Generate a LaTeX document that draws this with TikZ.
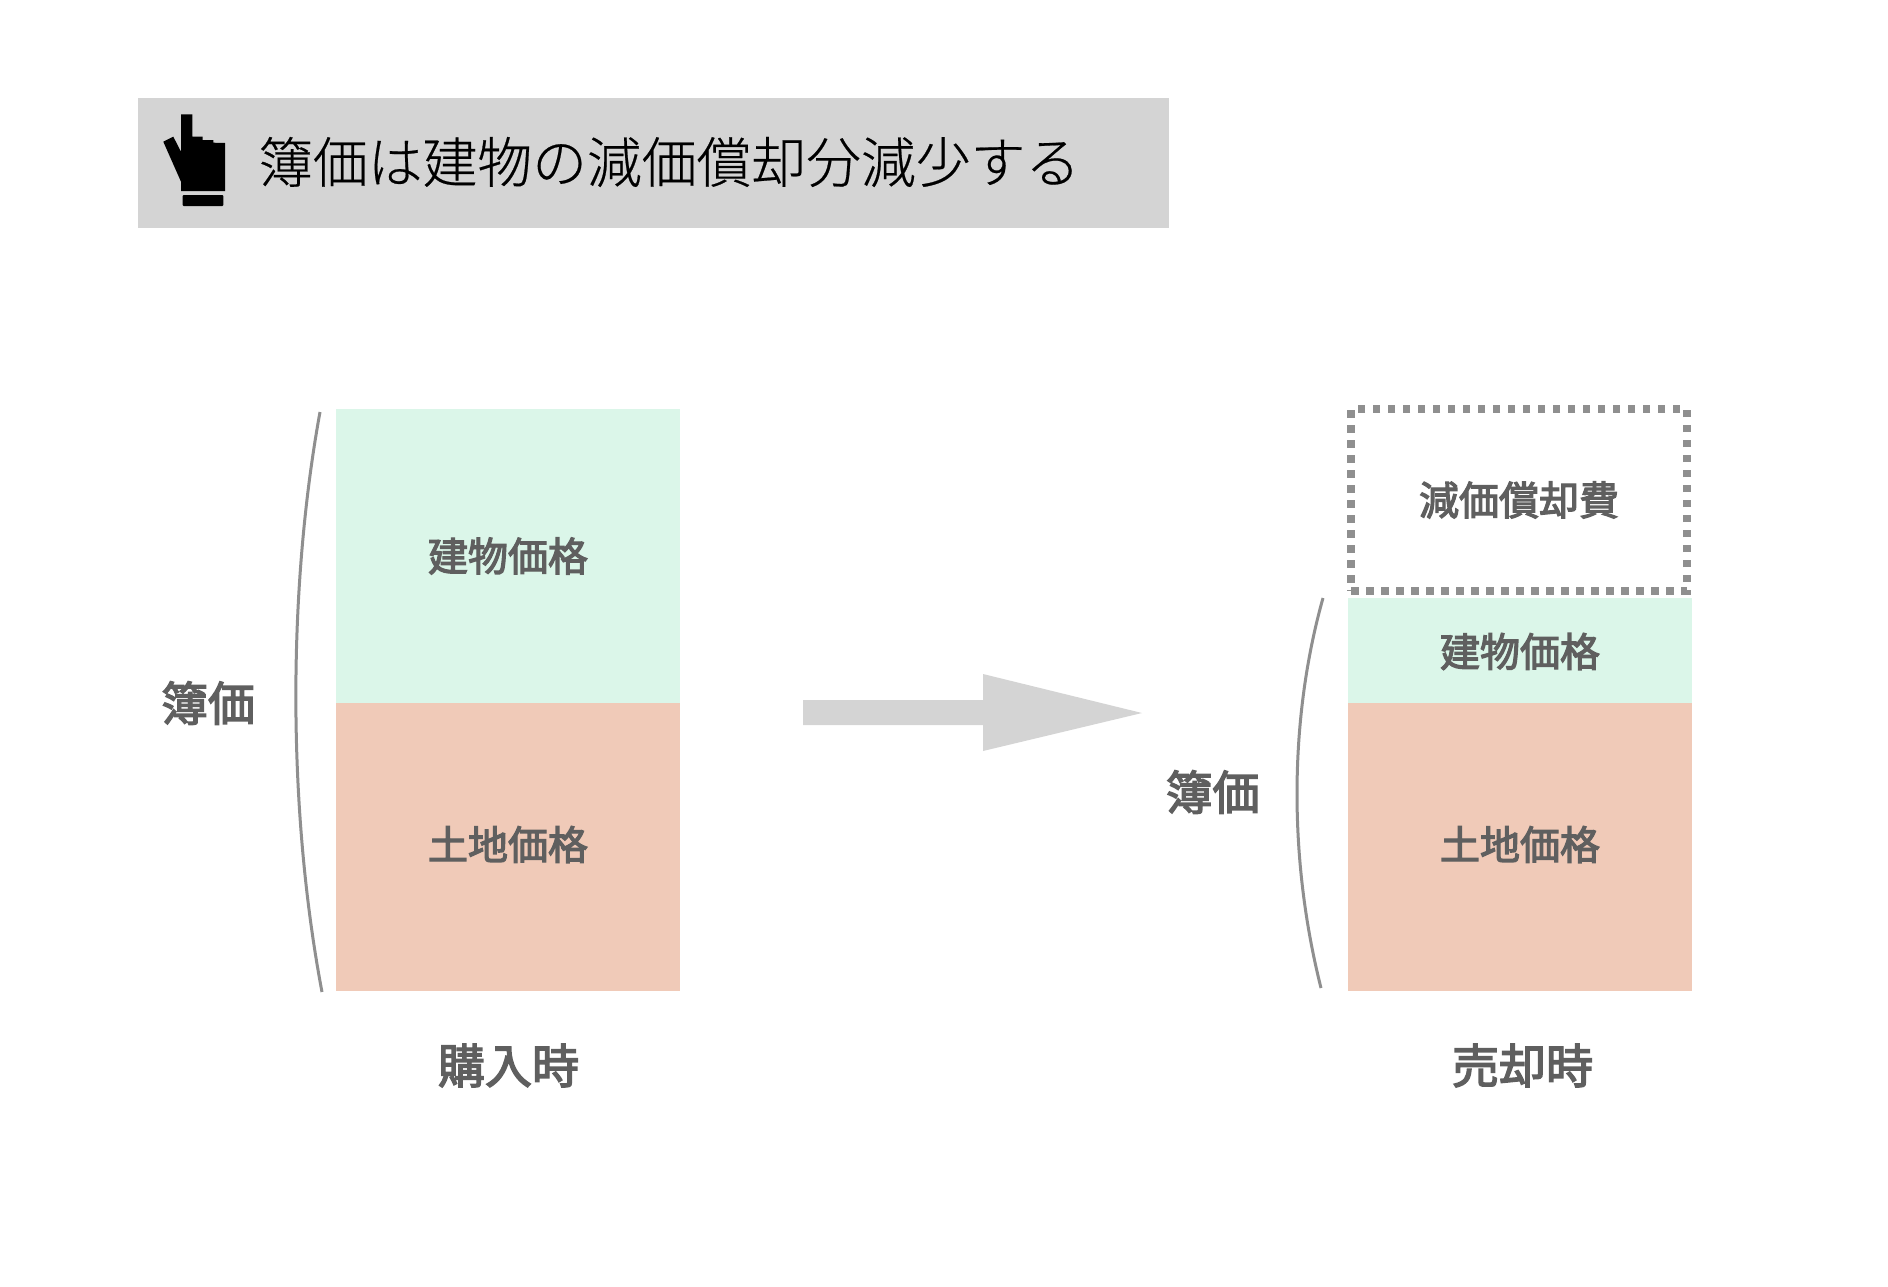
\documentclass[tikz,border=0pt]{standalone}
\usepackage{fontspec}
\setmainfont{Noto Sans CJK JP}
\newfontfamily\lightfont[FakeBold=0.4]{Noto Sans CJK JP Light}
\newfontfamily\mediumfont[FakeBold=3]{Noto Sans CJK JP}
\definecolor{bandgray}{HTML}{D4D4D4}
\definecolor{textgray}{HTML}{5F5F5F}
\definecolor{linegray}{HTML}{8F8F8F}
\definecolor{buildgreen}{HTML}{DBF6E9}
\definecolor{landred}{HTML}{F0CAB8}
\tikzset{
  pricebox/.style={inner sep=0pt,outer sep=0pt,minimum width=344pt,text=textgray,
    font=\fontsize{40}{40}\selectfont\mediumfont},
  sidetext/.style={inner sep=0pt,text=textgray,font=\fontsize{47}{47}\selectfont\mediumfont},
  bracket/.style={draw=linegray,line width=3pt},
}
\begin{document}
\begin{tikzpicture}[x=1pt,y=-1pt]

      \useasboundingbox (0,0) rectangle (1888,1286);

      % header band
      \node[fill=bandgray,inner sep=0pt,minimum width=1031.5pt,minimum height=130pt] (band) at (653.5,162.5) {};
      \fill (181,114.3) -- (192.3,114.3) -- (192.3,136.7) -- (202.7,136.7) -- (202.7,140) -- (213.3,140)
        -- (213.3,142.7) -- (225,143) -- (225,191) -- (181,191) -- (181,181.7) -- (163.3,141.7)
        -- (173.3,136.7) -- (181,151.7) -- cycle;
      \fill[rounded corners=1pt] (182.7,195) rectangle (223.3,206);
      \node[anchor=west,inner sep=0pt,font=\fontsize{54.8}{54}\selectfont\lightfont] (title) at (258,162) {簿価は建物の減価償却分減少する};

      % boxes
      \begin{scope}[every node/.style={pricebox}]
        \node[fill=buildgreen,minimum height=294pt] (buildA) at (508,556)    {建物価格};
        \node[fill=landred,minimum height=288pt]    (landA)  at (508,847)    {\raisebox{2.5pt}[\height][\depth]{土地価格}};
        \node[fill=buildgreen,minimum height=105pt] (buildB) at (1520,650.5) {\raisebox{-1pt}[\height][\depth]{建物価格}};
        \node[fill=landred,minimum height=288pt]    (landB)  at (1520,847)   {\raisebox{2.5pt}[\height][\depth]{土地価格}};
        \node[draw=linegray,line width=7.5pt,dash pattern=on 7.5pt off 7.5pt,
          minimum width=336pt,minimum height=182pt] (deprec) at (1519,500) {減価償却費};
      \end{scope}

      % arrow
      \fill[bandgray] (803,700) -- (983,700) -- (983,674) -- (1142,713) -- (983,751) -- (983,725) -- (803,725) -- cycle;

      % brackets
      \coordinate (topA) at (320,412);
      \coordinate (botA) at (322,992);
      \coordinate (topB) at (1323,598);
      \coordinate (botB) at (1321,988);
      \draw[bracket] (topA) .. controls (287.5,590) and (287.5,810) .. (botA);
      \draw[bracket] (topB) .. controls (1288.7,720) and (1288.7,860) .. (botB);

      \begin{scope}[every node/.style={sidetext}]
        \node (bookA) at (208,703)    {簿価};
        \node (bookB) at (1212.5,792) {簿価};
        \node (timeA) at (508.5,1065.5) {購入時};
        \node (timeB) at (1522.5,1065.5) {売却時};
      \end{scope}

    \end{tikzpicture}
\end{document}
